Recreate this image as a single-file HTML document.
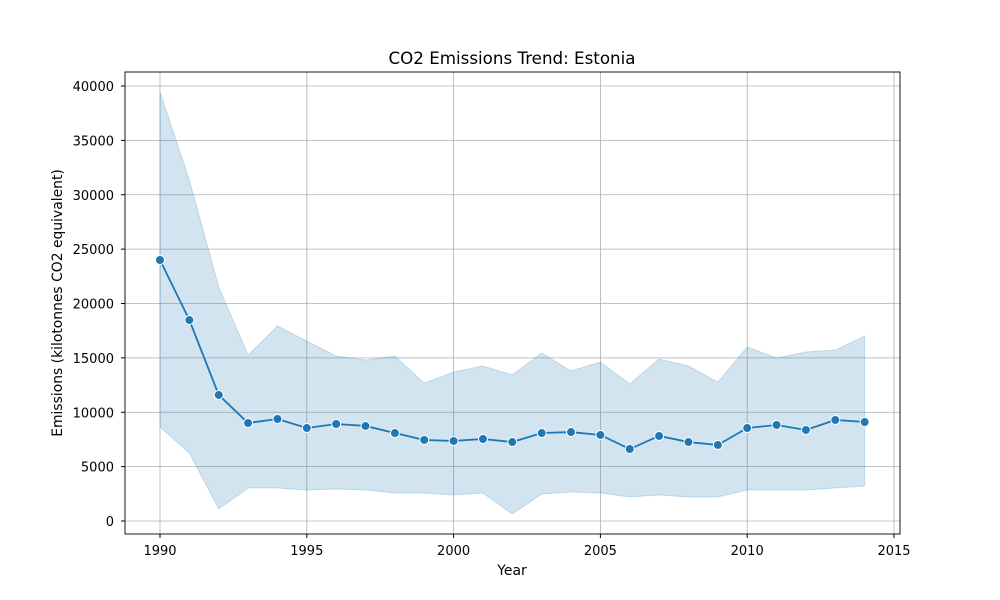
<!DOCTYPE html>
<html><head><meta charset="utf-8"><style>
body{margin:0;background:#fff;}
svg{display:block;font-family:"DejaVu Sans","Liberation Sans",sans-serif;}
</style></head><body>
<svg id="chart" width="1000" height="600" xmlns="http://www.w3.org/2000/svg"></svg>
<script>
const years=[1990,1991,1992,1993,1994,1995,1996,1997,1998,1999,2000,2001,2002,2003,2004,2005,2006,2007,2008,2009,2010,2011,2012,2013,2014];
const meanVals=[24000,18480,11590,9010,9380,8550,8920,8740,8090,7450,7360,7540,7260,8090,8180,7910,6620,7820,7260,6990,8550,8830,8370,9290,9100];
const upperVals=[39450,31360,21520,15260,17930,16550,15170,14800,15170,12690,13700,14250,13430,15450,13790,14620,12600,14900,14250,12780,16000,14990,15540,15720,17010];
const lowerVals=[8640,6250,1100,3030,3030,2850,2940,2850,2570,2570,2390,2570,640,2480,2670,2570,2210,2390,2210,2210,2850,2850,2850,3030,3220];
const xTicks=[1990,1995,2000,2005,2010,2015];
const yTicks=[0,5000,10000,15000,20000,25000,30000,35000,40000];

const L=125,R=900,T=72,B=534;
const x=v=>160+(v-1990)*(894-160)/25;
const y=v=>521-v*(521-86)/40000;
const svg=document.getElementById('chart');
const NS='http://www.w3.org/2000/svg';
function mk(tag,attrs,parent){const e=document.createElementNS(NS,tag);for(const k in attrs)e.setAttribute(k,attrs[k]);(parent||svg).appendChild(e);return e;}

const grid=mk('g',{});


xTicks.forEach(t=>mk('line',{x1:x(t),x2:x(t),y1:T,y2:B,stroke:'#b0b0b0','stroke-width':0.8},grid));
yTicks.forEach(t=>mk('line',{x1:L,x2:R,y1:y(t),y2:y(t),stroke:'#b0b0b0','stroke-width':0.8},grid));

let d='M'+years.map((yr,i)=>x(yr)+','+y(upperVals[i])).join('L');
for(let i=years.length-1;i>=0;i--)d+='L'+x(years[i])+','+y(lowerVals[i]);
const band=mk('path',{d:d+'Z',fill:'#1f77b4','fill-opacity':0.2,stroke:'#1f77b4','stroke-opacity':0.2});



const line=mk('polyline',{points:years.map((yr,i)=>x(yr)+','+y(meanVals[i])).join(' '),fill:'none',stroke:'#1f77b4','stroke-width':1.8});


years.forEach((yr,i)=>{
  const c=mk('circle',{cx:x(yr),cy:y(meanVals[i]),r:4.5,fill:'#1f77b4',stroke:'#fff','stroke-width':1});
  
  
});

const frame=mk('rect',{x:L,y:T,width:R-L,height:B-T,fill:'none',stroke:'#000','stroke-width':0.9});



xTicks.forEach(t=>{
  mk('line',{x1:x(t),x2:x(t),y1:B,y2:B+4,stroke:'#000'});
  const tx=mk('text',{x:x(t),y:B+21,'font-size':13,'text-anchor':'middle'});
  tx.textContent=t;
  
  
});
yTicks.forEach(t=>{
  mk('line',{x1:L-4,x2:L,y1:y(t),y2:y(t),stroke:'#000'});
  const tx=mk('text',{x:L-11,y:y(t)+5,'font-size':13,'text-anchor':'end'});
  tx.textContent=t;
  
  
});
const title=mk('text',{x:512,y:64,'font-size':16.7,'text-anchor':'middle'});
title.textContent='CO2 Emissions Trend: Estonia';


const xl=mk('text',{x:512,y:575,'font-size':13.9,'text-anchor':'middle'});
xl.textContent='Year';


const yl=mk('text',{x:62,y:303,'font-size':13.9,'text-anchor':'middle',transform:'rotate(-90 62 303)'});
yl.textContent='Emissions (kilotonnes CO2 equivalent)';


</script>
</body></html>
